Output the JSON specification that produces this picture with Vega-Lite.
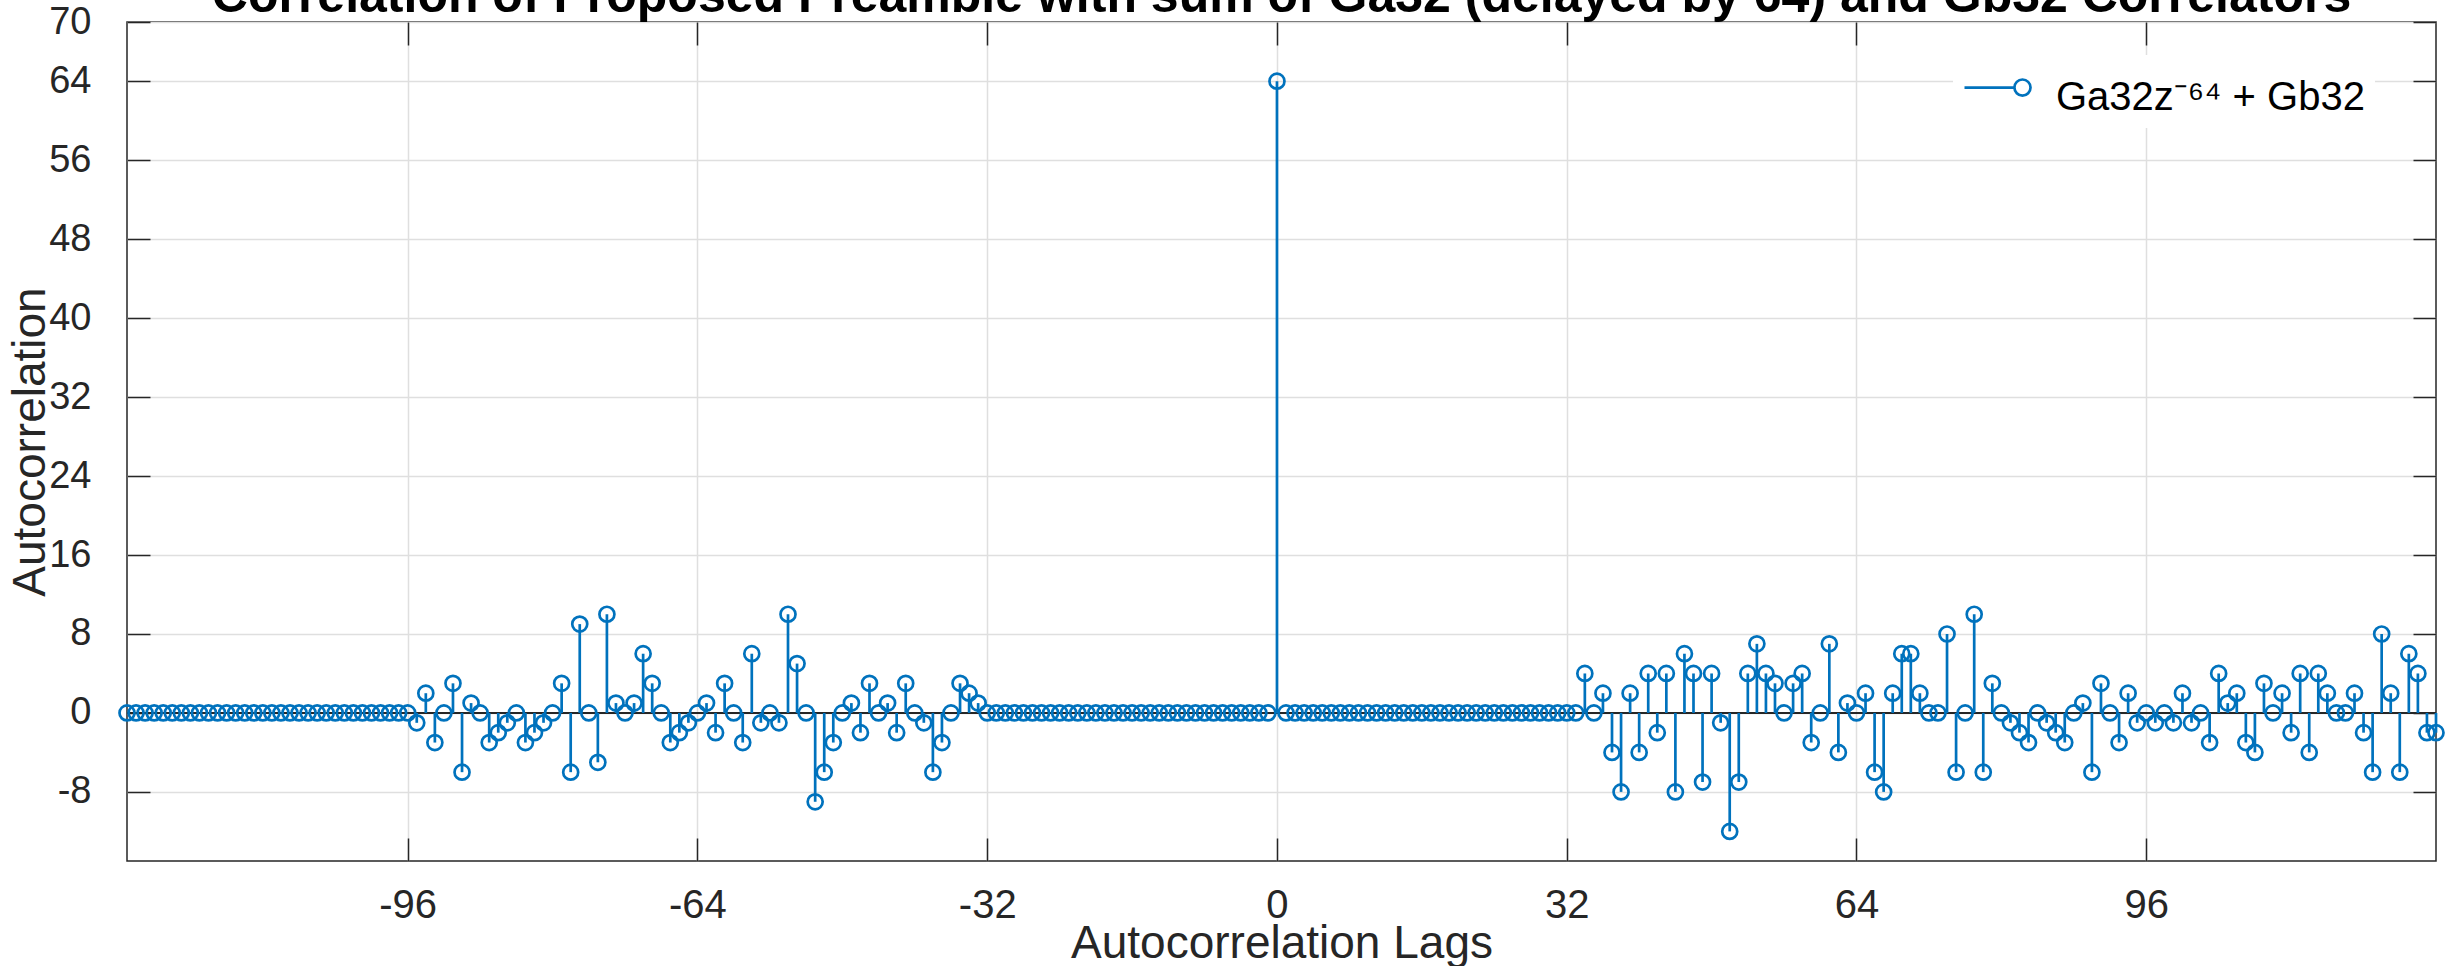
{
  "$schema": "https://vega.github.io/schema/vega-lite/v6.json",
  "width": 2309,
  "height": 839,
  "autosize": {"type": "none"},
  "padding": {"left": 127, "top": 22, "right": 21, "bottom": 105},
  "background": "white",
  "config": {
    "font": "Liberation Sans",
    "view": {"stroke": "#262626", "strokeWidth": 1.5}
  },
  "title": {
    "text": "Correlation of Proposed Preamble with sum of Ga32 (delayed by 64) and Gb32 Correlators",
    "fontSize": 50,
    "fontWeight": "bold",
    "font": "Liberation Sans",
    "color": "#000000",
    "anchor": "middle",
    "offset": 3,
    "dy": 22
  },
  "datasets": {
    "corr": [
      {"lag":-127,"r":0},{"lag":-126,"r":0},{"lag":-125,"r":0},{"lag":-124,"r":0},{"lag":-123,"r":0},{"lag":-122,"r":0},{"lag":-121,"r":0},{"lag":-120,"r":0},
      {"lag":-119,"r":0},{"lag":-118,"r":0},{"lag":-117,"r":0},{"lag":-116,"r":0},{"lag":-115,"r":0},{"lag":-114,"r":0},{"lag":-113,"r":0},{"lag":-112,"r":0},
      {"lag":-111,"r":0},{"lag":-110,"r":0},{"lag":-109,"r":0},{"lag":-108,"r":0},{"lag":-107,"r":0},{"lag":-106,"r":0},{"lag":-105,"r":0},{"lag":-104,"r":0},
      {"lag":-103,"r":0},{"lag":-102,"r":0},{"lag":-101,"r":0},{"lag":-100,"r":0},{"lag":-99,"r":0},{"lag":-98,"r":0},{"lag":-97,"r":0},{"lag":-96,"r":0},
      {"lag":-95,"r":-1},{"lag":-94,"r":2},{"lag":-93,"r":-3},{"lag":-92,"r":0},{"lag":-91,"r":3},{"lag":-90,"r":-6},{"lag":-89,"r":1},{"lag":-88,"r":0},
      {"lag":-87,"r":-3},{"lag":-86,"r":-2},{"lag":-85,"r":-1},{"lag":-84,"r":0},{"lag":-83,"r":-3},{"lag":-82,"r":-2},{"lag":-81,"r":-1},{"lag":-80,"r":0},
      {"lag":-79,"r":3},{"lag":-78,"r":-6},{"lag":-77,"r":9},{"lag":-76,"r":0},{"lag":-75,"r":-5},{"lag":-74,"r":10},{"lag":-73,"r":1},{"lag":-72,"r":0},
      {"lag":-71,"r":1},{"lag":-70,"r":6},{"lag":-69,"r":3},{"lag":-68,"r":0},{"lag":-67,"r":-3},{"lag":-66,"r":-2},{"lag":-65,"r":-1},{"lag":-64,"r":0},
      {"lag":-63,"r":1},{"lag":-62,"r":-2},{"lag":-61,"r":3},{"lag":-60,"r":0},{"lag":-59,"r":-3},{"lag":-58,"r":6},{"lag":-57,"r":-1},{"lag":-56,"r":0},
      {"lag":-55,"r":-1},{"lag":-54,"r":10},{"lag":-53,"r":5},{"lag":-52,"r":0},{"lag":-51,"r":-9},{"lag":-50,"r":-6},{"lag":-49,"r":-3},{"lag":-48,"r":0},
      {"lag":-47,"r":1},{"lag":-46,"r":-2},{"lag":-45,"r":3},{"lag":-44,"r":0},{"lag":-43,"r":1},{"lag":-42,"r":-2},{"lag":-41,"r":3},{"lag":-40,"r":0},
      {"lag":-39,"r":-1},{"lag":-38,"r":-6},{"lag":-37,"r":-3},{"lag":-36,"r":0},{"lag":-35,"r":3},{"lag":-34,"r":2},{"lag":-33,"r":1},{"lag":-32,"r":0},
      {"lag":-31,"r":0},{"lag":-30,"r":0},{"lag":-29,"r":0},{"lag":-28,"r":0},{"lag":-27,"r":0},{"lag":-26,"r":0},{"lag":-25,"r":0},{"lag":-24,"r":0},
      {"lag":-23,"r":0},{"lag":-22,"r":0},{"lag":-21,"r":0},{"lag":-20,"r":0},{"lag":-19,"r":0},{"lag":-18,"r":0},{"lag":-17,"r":0},{"lag":-16,"r":0},
      {"lag":-15,"r":0},{"lag":-14,"r":0},{"lag":-13,"r":0},{"lag":-12,"r":0},{"lag":-11,"r":0},{"lag":-10,"r":0},{"lag":-9,"r":0},{"lag":-8,"r":0},
      {"lag":-7,"r":0},{"lag":-6,"r":0},{"lag":-5,"r":0},{"lag":-4,"r":0},{"lag":-3,"r":0},{"lag":-2,"r":0},{"lag":-1,"r":0},{"lag":0,"r":64},
      {"lag":1,"r":0},{"lag":2,"r":0},{"lag":3,"r":0},{"lag":4,"r":0},{"lag":5,"r":0},{"lag":6,"r":0},{"lag":7,"r":0},{"lag":8,"r":0},
      {"lag":9,"r":0},{"lag":10,"r":0},{"lag":11,"r":0},{"lag":12,"r":0},{"lag":13,"r":0},{"lag":14,"r":0},{"lag":15,"r":0},{"lag":16,"r":0},
      {"lag":17,"r":0},{"lag":18,"r":0},{"lag":19,"r":0},{"lag":20,"r":0},{"lag":21,"r":0},{"lag":22,"r":0},{"lag":23,"r":0},{"lag":24,"r":0},
      {"lag":25,"r":0},{"lag":26,"r":0},{"lag":27,"r":0},{"lag":28,"r":0},{"lag":29,"r":0},{"lag":30,"r":0},{"lag":31,"r":0},{"lag":32,"r":0},
      {"lag":33,"r":0},{"lag":34,"r":4},{"lag":35,"r":0},{"lag":36,"r":2},{"lag":37,"r":-4},{"lag":38,"r":-8},{"lag":39,"r":2},{"lag":40,"r":-4},
      {"lag":41,"r":4},{"lag":42,"r":-2},{"lag":43,"r":4},{"lag":44,"r":-8},{"lag":45,"r":6},{"lag":46,"r":4},{"lag":47,"r":-7},{"lag":48,"r":4},
      {"lag":49,"r":-1},{"lag":50,"r":-12},{"lag":51,"r":-7},{"lag":52,"r":4},{"lag":53,"r":7},{"lag":54,"r":4},{"lag":55,"r":3},{"lag":56,"r":0},
      {"lag":57,"r":3},{"lag":58,"r":4},{"lag":59,"r":-3},{"lag":60,"r":0},{"lag":61,"r":7},{"lag":62,"r":-4},{"lag":63,"r":1},{"lag":64,"r":0},
      {"lag":65,"r":2},{"lag":66,"r":-6},{"lag":67,"r":-8},{"lag":68,"r":2},{"lag":69,"r":6},{"lag":70,"r":6},{"lag":71,"r":2},{"lag":72,"r":0},
      {"lag":73,"r":0},{"lag":74,"r":8},{"lag":75,"r":-6},{"lag":76,"r":0},{"lag":77,"r":10},{"lag":78,"r":-6},{"lag":79,"r":3},{"lag":80,"r":0},
      {"lag":81,"r":-1},{"lag":82,"r":-2},{"lag":83,"r":-3},{"lag":84,"r":0},{"lag":85,"r":-1},{"lag":86,"r":-2},{"lag":87,"r":-3},{"lag":88,"r":0},
      {"lag":89,"r":1},{"lag":90,"r":-6},{"lag":91,"r":3},{"lag":92,"r":0},{"lag":93,"r":-3},{"lag":94,"r":2},{"lag":95,"r":-1},{"lag":96,"r":0},
      {"lag":97,"r":-1},{"lag":98,"r":0},{"lag":99,"r":-1},{"lag":100,"r":2},{"lag":101,"r":-1},{"lag":102,"r":0},{"lag":103,"r":-3},{"lag":104,"r":4},
      {"lag":105,"r":1},{"lag":106,"r":2},{"lag":107,"r":-3},{"lag":108,"r":-4},{"lag":109,"r":3},{"lag":110,"r":0},{"lag":111,"r":2},{"lag":112,"r":-2},
      {"lag":113,"r":4},{"lag":114,"r":-4},{"lag":115,"r":4},{"lag":116,"r":2},{"lag":117,"r":0},{"lag":118,"r":0},{"lag":119,"r":2},{"lag":120,"r":-2},
      {"lag":121,"r":-6},{"lag":122,"r":8},{"lag":123,"r":2},{"lag":124,"r":-6},{"lag":125,"r":6},{"lag":126,"r":4},{"lag":127,"r":-2},{"lag":128,"r":-2}
    ],
    "base": [{"b": 0}]
  },
  "layer": [
    {
      "data": {"name": "base"},
      "mark": {"type": "rule", "color": "#262626", "strokeWidth": 2},
      "encoding": {
        "y": {"field": "b", "type": "quantitative", "axis": null,
              "scale": {"domain": [-15, 70], "nice": false, "zero": false}}
      }
    },
    {
      "data": {"name": "corr"},
      "mark": {"type": "rule", "color": "#0072BD", "strokeWidth": 2.7},
      "encoding": {
        "x": {"field": "lag", "type": "quantitative",
              "scale": {"domain": [-127, 128], "nice": false, "zero": false},
              "axis": {"orient": "bottom", "values": [-96, -64, -32, 0, 32, 64, 96],
                       "labelExpr": "toString(datum.value)",
                       "grid": true, "gridColor": "#dfdfdf", "gridWidth": 1.5,
                       "domain": false, "ticks": true, "tickSize": -23, "tickColor": "#262626", "tickWidth": 1.5,
                       "labelPadding": 47, "labelFontSize": 40, "labelColor": "#262626", "labelFont": "Liberation Sans",
                       "title": "Autocorrelation Lags", "titleFontSize": 46, "titleFontWeight": "normal",
                       "titleColor": "#262626", "titleFont": "Liberation Sans", "titlePadding": -4}},
        "y": {"field": "r", "type": "quantitative",
              "scale": {"domain": [-15, 70], "nice": false, "zero": false},
              "axis": {"orient": "left", "values": [-8, 0, 8, 16, 24, 32, 40, 48, 56, 64, 70],
                       "labelExpr": "toString(datum.value)",
                       "grid": true, "gridColor": "#dfdfdf", "gridWidth": 1.5,
                       "domain": false, "ticks": true, "tickSize": -23, "tickColor": "#262626", "tickWidth": 1.5,
                       "labelPadding": 59, "labelFontSize": 38, "labelColor": "#262626", "labelFont": "Liberation Sans",
                       "title": "Autocorrelation", "titleFontSize": 46, "titleFontWeight": "normal",
                       "titleColor": "#262626", "titleFont": "Liberation Sans", "titlePadding": -6}},
        "y2": {"datum": 0}
      }
    },
    {
      "data": {"name": "corr"},
      "mark": {"type": "point", "filled": false, "strokeWidth": 2.7, "size": 225, "opacity": 1},
      "encoding": {
        "x": {"field": "lag", "type": "quantitative",
              "scale": {"domain": [-127, 128], "nice": false, "zero": false},
              "axis": {"orient": "top", "values": [-96, -64, -32, 0, 32, 64, 96],
                       "grid": false, "domain": false, "labels": false, "title": null,
                       "ticks": true, "tickSize": -23, "tickColor": "#262626", "tickWidth": 1.5}},
        "y": {"field": "r", "type": "quantitative",
              "scale": {"domain": [-15, 70], "nice": false, "zero": false},
              "axis": {"orient": "right", "values": [-8, 0, 8, 16, 24, 32, 40, 48, 56, 64, 70],
                       "grid": false, "domain": false, "labels": false, "title": null,
                       "ticks": true, "tickSize": -23, "tickColor": "#262626", "tickWidth": 1.5}},
        "stroke": {"datum": "Ga32z⁻⁶⁴ + Gb32", "type": "nominal",
                   "scale": {"range": ["#0072BD"]},
                   "legend": {"orient": "none", "legendX": 1826, "legendY": 33, "title": null,
                              "symbolType": "M-1,-0.32L0.61,-0.32M0.61,-0.32C0.61,-0.4636 0.7264,-0.58 0.87,-0.58C1.0136,-0.58 1.13,-0.4636 1.13,-0.32C1.13,-0.1764 1.0136,-0.06 0.87,-0.06C0.7264,-0.06 0.61,-0.1764 0.61,-0.32Z",
                              "symbolSize": 3844, "symbolStrokeWidth": 2.7, "symbolFillColor": "transparent",
                              "symbolStrokeColor": "#0072BD",
                              "labelFontSize": 40, "labelColor": "#000000", "labelFont": "Liberation Sans",
                              "labelOffset": 28, "labelLimit": 600,
                              "fillColor": "white", "padding": 10}}
      }
    }
  ],
  "resolve": {"axis": {"x": "independent", "y": "independent"}}
}
